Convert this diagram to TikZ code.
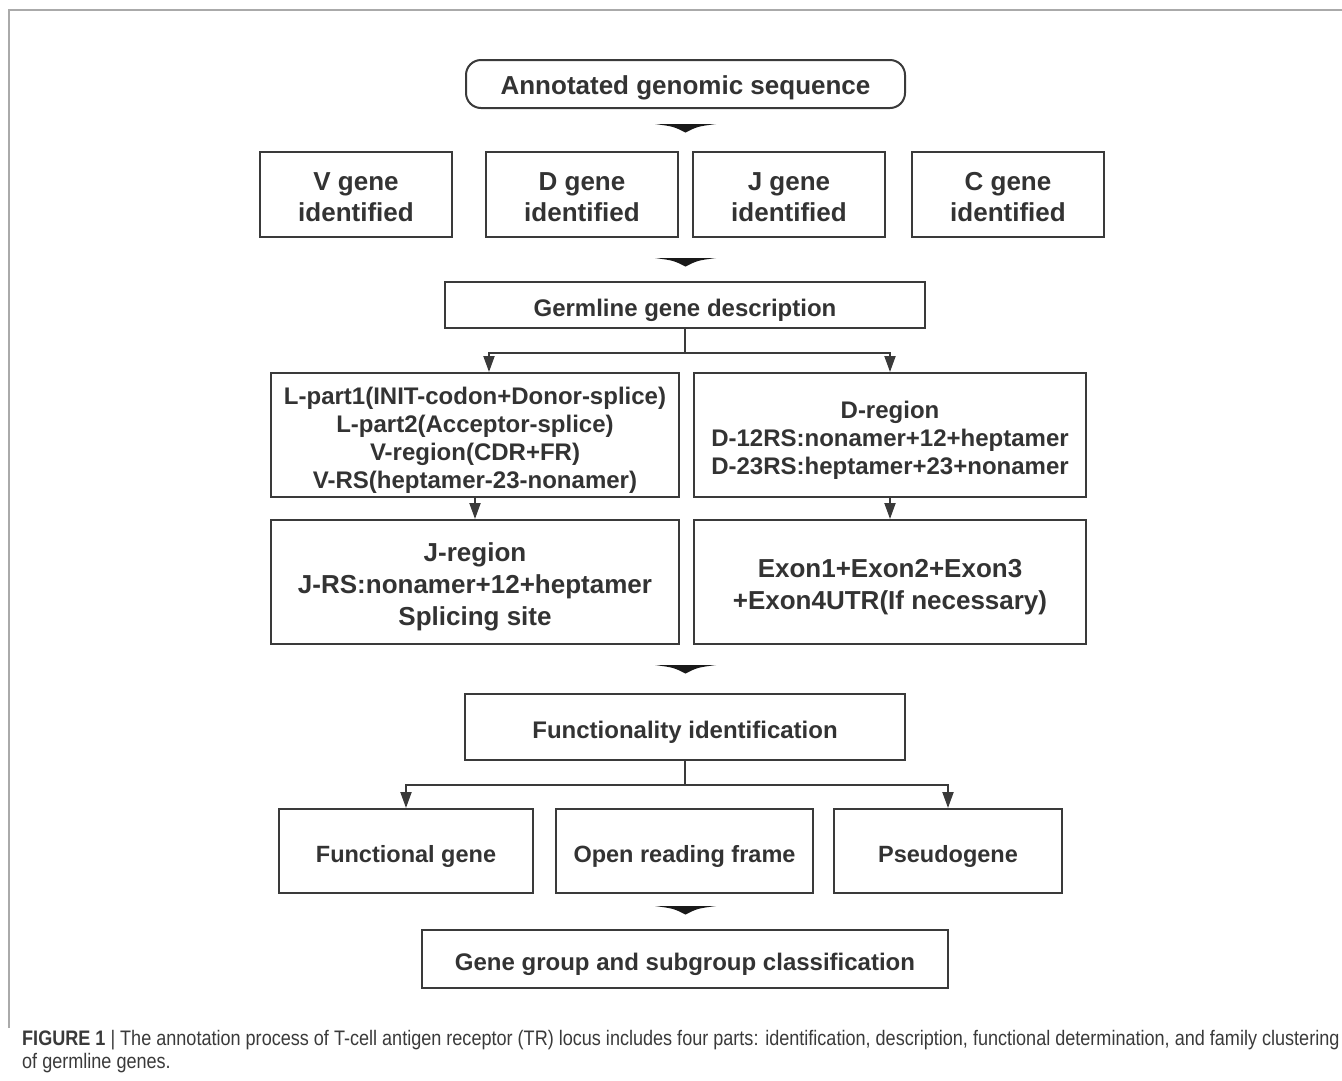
\documentclass[tikz,border=0pt]{standalone}
\usepackage{fontspec}
\setmainfont{Liberation Sans}
\newfontfamily\capfont[FakeStretch=0.86]{Liberation Sans}
\usetikzlibrary{arrows.meta,calc}
\definecolor{linegray}{HTML}{3A3A3A}
\definecolor{txtgray}{HTML}{333333}
\definecolor{framegray}{HTML}{AAAAAA}
\definecolor{captext}{HTML}{3A3A3A}
\tikzset{
  box/.style={draw=linegray, line width=2pt, fill=white, inner sep=0pt},
  tx/.style={align=center, text=txtgray, inner sep=0pt, yshift=-5pt, font=\bfseries\fontsize{26}{31}\selectfont},
  smallfont/.style={font=\bfseries\fontsize{24}{28}\selectfont},
  bigfont/.style={font=\bfseries\fontsize{26}{32}\selectfont},
  rowfont/.style={font=\bfseries\fontsize{23.5}{28}\selectfont},
  conn/.style={draw=linegray, line width=2pt},
  arr/.style={conn, -{Triangle[length=16pt,width=11pt]}},
  chev/.pic={\fill[black!90] (-30.5,0) -- (30.5,0) .. controls (12,2.5) .. (0,8.5) .. controls (-12,2.5) .. (-30.5,0) -- cycle;}
}
\begin{document}
\begin{tikzpicture}[x=1pt,y=-1pt]
\useasboundingbox (0,0) rectangle (1342,1080);
\draw[framegray, line width=1.5pt] (9,1028) -- (9,10) -- (1342,10);

\node[box, rounded corners=15pt, minimum width=439pt, minimum height=48pt,
  label={[tx, yshift=1pt]center:{Annotated genomic sequence}}] (top) at (685.5,84) {};
\pic at (685.5,124) {chev};

\node[box, minimum width=192pt, minimum height=85pt, label={[tx, yshift=2pt]center:{V gene\\identified}}] (V) at (356,194.5) {};
\node[box, minimum width=192pt, minimum height=85pt, label={[tx, yshift=2pt]center:{D gene\\identified}}] (D) at (582,194.5) {};
\node[box, minimum width=192pt, minimum height=85pt, label={[tx, yshift=2pt]center:{J gene\\identified}}] (J) at (789,194.5) {};
\node[box, minimum width=192pt, minimum height=85pt, label={[tx, yshift=2pt]center:{C gene\\identified}}] (C) at (1008,194.5) {};
\pic at (685.5,258) {chev};

\node[box, minimum width=480pt, minimum height=46pt, label={[tx, smallfont]center:{Germline gene description}}] (germ) at (685,305) {};

\node[box, minimum width=408pt, minimum height=124pt, label={[tx, smallfont]center:{L-part1(INIT-codon+Donor-splice)\\L-part2(Acceptor-splice)\\V-region(CDR+FR)\\V-RS(heptamer-23-nonamer)}}] (Lp) at (475,435) {};
\node[box, minimum width=392pt, minimum height=124pt, label={[tx, smallfont]center:{D-region\\D-12RS:nonamer+12+heptamer\\D-23RS:heptamer+23+nonamer}}] (Dr) at (890,435) {};
\node[box, minimum width=408pt, minimum height=124pt, label={[tx, bigfont]center:{J-region\\J-RS:nonamer+12+heptamer\\Splicing site}}] (Jr) at (475,582) {};
\node[box, minimum width=392pt, minimum height=124pt, label={[tx, bigfont]center:{Exon1+Exon2+Exon3\\+Exon4UTR(If necessary)}}] (Ex) at (890,582) {};

\coordinate (b1) at (685,353);
\draw[conn] (germ.south) -- (b1);
\draw[arr] (b1) -| ([xshift=14pt]Lp.north);
\draw[arr] (b1) -| (Dr.north);
\draw[arr] (Lp.south) -- (Jr.north);
\draw[arr] (Dr.south) -- (Ex.north);

\pic at (685.5,665) {chev};

\node[box, minimum width=440pt, minimum height=66pt, label={[tx, smallfont]center:{Functionality identification}}] (fun) at (685,727) {};

\node[box, minimum width=254pt, minimum height=84pt, label={[tx, rowfont]center:{Functional gene}}] (fg) at (406,851) {};
\node[box, minimum width=257pt, minimum height=84pt, label={[tx, rowfont]center:{Open reading frame}}] (orf) at (684.5,851) {};
\node[box, minimum width=228pt, minimum height=84pt, label={[tx, rowfont]center:{Pseudogene}}] (ps) at (948,851) {};

\coordinate (b2) at (685,785);
\draw[conn] (fun.south) -- (b2);
\draw[arr] (b2) -| (fg.north);
\draw[arr] (b2) -| (ps.north);

\pic at (685.5,906) {chev};

\node[box, minimum width=526pt, minimum height=58pt, label={[tx, smallfont]center:{Gene group and subgroup classification}}] (gg) at (685,959) {};

\node[anchor=west, inner sep=0pt, text=captext, font=\capfont\fontsize{21}{25}\selectfont] (cap1) at (22,1040) {\textbf{FIGURE 1} | The annotation process of T-cell antigen receptor (TR) locus includes four parts: identification, description, functional determination, and family clustering};
\node[anchor=west, inner sep=0pt, text=captext, font=\capfont\fontsize{21}{25}\selectfont] (cap2) at (22,1063) {of germline genes.};
\end{tikzpicture}
\end{document}
